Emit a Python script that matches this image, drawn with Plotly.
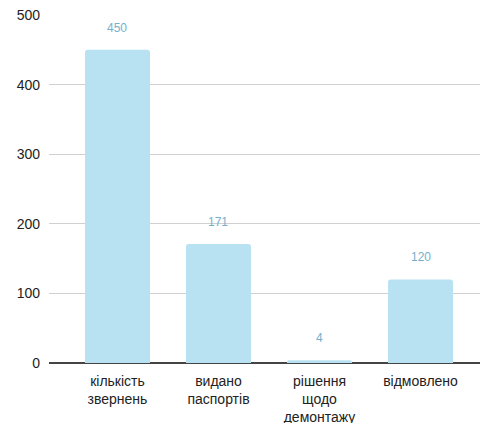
import plotly.graph_objects as go

categories = ["кількість<br>звернень", "видано<br>паспортів", "рішення<br>щодо<br>демонтажу", "відмовлено"]
values = [450, 171, 4, 120]
y_ticks = [0, 100, 200, 300, 400, 500]

fig = go.Figure()
fig.add_trace(go.Bar(
    x=categories, y=values,
    marker=dict(color="#b8e2f2", cornerradius=3, line=dict(width=0)),
    width=0.644,
    hoverinfo="skip",
))
for c, v in zip(categories, values):
    fig.add_annotation(x=c, y=v, text=str(v), showarrow=False,
                       yanchor="middle", yshift=22,
                       font=dict(family="Liberation Sans, Arial", size=12, color="#74b0cd"))

fig.update_layout(
    width=480, height=423,
    margin=dict(l=49, r=0, t=15, b=60),
    paper_bgcolor="white", plot_bgcolor="white",
    showlegend=False,
    font=dict(family="Liberation Sans, Arial", size=14, color="#222222"),
    xaxis=dict(range=[-0.678, 3.589], showgrid=False, showline=False, ticks="",
               ticklabelstandoff=8, automargin=False,
               tickfont=dict(size=14, color="#222222")),
    yaxis=dict(range=[0, 500], tickvals=y_ticks, showgrid=True, gridcolor="#d0d0d0",
               gridwidth=1, zeroline=True, zerolinecolor="#444444", zerolinewidth=1.5,
               showline=False, ticks="", ticklabelstandoff=8, automargin=False,
               tickfont=dict(size=14, color="#222222")),
)
fig.write_html("out.html", config={"displayModeBar": False},
               post_script="document.body.style.margin='0';")
